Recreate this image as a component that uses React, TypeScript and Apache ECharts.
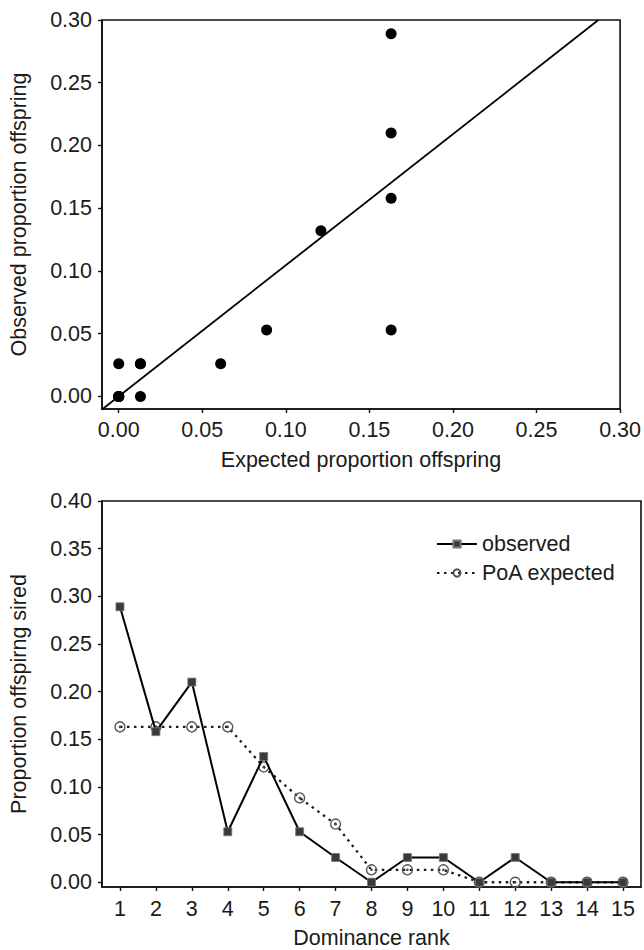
import React, { useEffect, useRef } from "react";
import * as echarts from "echarts";

// ---- data ----
const ranks = [1, 2, 3, 4, 5, 6, 7, 8, 9, 10, 11, 12, 13, 14, 15];
const observedProp = [0.289, 0.158, 0.21, 0.053, 0.132, 0.053, 0.026, 0, 0.026, 0.026, 0, 0.026, 0, 0, 0];
const expectedProp = [0.163, 0.163, 0.163, 0.163, 0.121, 0.0885, 0.061, 0.013, 0.013, 0.013, 0, 0, 0, 0, 0];
const fitLineX = [-0.01, 0.287];
const fitLineY = [-0.0104, 0.3];
const topTicks = [0, 0.05, 0.1, 0.15, 0.2, 0.25, 0.3];
const bottomYTicks = [0, 0.05, 0.1, 0.15, 0.2, 0.25, 0.3, 0.35, 0.4];

const FONT = "'Liberation Sans', Arial, Helvetica, sans-serif";
const TXT = "#1a1a1a";
const AX = "#111";
const FS = 21.5;

function axisCommon(extra: any) {
  return {
    axisLine: { show: true, onZero: false, lineStyle: { color: AX, width: 1.6 } },
    splitLine: { show: false },
    nameTextStyle: { color: TXT, fontSize: FS, fontFamily: FONT },
    ...extra,
  };
}

export default function App() {
  const ref = useRef<HTMLDivElement>(null);
  useEffect(() => {
    if (!ref.current) return;
    const chart = echarts.init(ref.current, null, { renderer: "svg" });
    const scatterPts = expectedProp.map((e, i) => [e, observedProp[i]]);
    const fitPts = fitLineX.map((x, i) => [x, fitLineY[i]]);
    const obsPts = ranks.map((r, i) => [r, observedProp[i]]);
    const expPts = ranks.map((r, i) => [r, expectedProp[i]]);
    const fmt2 = (v: number) => v.toFixed(2);
    const tick = (vals: number[]) => ({ show: true, length: 4, lineStyle: { color: AX, width: 1.4 }, customValues: vals });
    const label = (vals: number[], margin: number, f: any) => ({ color: TXT, fontSize: FS, fontFamily: FONT, margin, customValues: vals, formatter: f });
    chart.setOption({
      animation: false,
      backgroundColor: "#fff",
      textStyle: { fontFamily: FONT },
      grid: [
        { left: 100, top: 20, width: 522, height: 389, show: true, borderColor: AX, borderWidth: 1.6, backgroundColor: "transparent" },
        { left: 100, top: 501, width: 541, height: 388, show: true, borderColor: AX, borderWidth: 1.6, backgroundColor: "transparent" },
      ],
      xAxis: [
        axisCommon({
          gridIndex: 0, type: "value", min: -0.01, max: 0.3,
          name: "Expected proportion offspring", nameLocation: "middle", nameGap: 40,
          axisTick: tick(topTicks),
          axisLabel: label(topTicks, 10, fmt2),
        }),
        axisCommon({
          gridIndex: 1, type: "value", min: 0.5, max: 15.5,
          name: "Dominance rank", nameLocation: "middle", nameGap: 40,
          axisTick: tick(ranks),
          axisLabel: label(ranks, 11, (v: number) => String(v)),
        }),
      ],
      yAxis: [
        axisCommon({
          gridIndex: 0, type: "value", min: -0.01, max: 0.3,
          name: "Observed proportion offspring", nameLocation: "middle", nameGap: 72,
          axisTick: tick(topTicks),
          axisLabel: label(topTicks, 10, fmt2),
        }),
        axisCommon({
          gridIndex: 1, type: "value", min: -0.005, max: 0.4,
          name: "Proportion offspirng sired", nameLocation: "middle", nameGap: 72,
          axisTick: tick(bottomYTicks),
          axisLabel: label(bottomYTicks, 10, fmt2),
        }),
      ],
      legend: {
        orient: "vertical",
        left: 431,
        top: 527,
        itemWidth: 40,
        itemHeight: 9,
        itemGap: 5,
        data: ["observed", "PoA expected"],
        textStyle: { color: TXT, fontSize: FS, fontFamily: FONT, lineHeight: 24 },
      },
      series: [
        {
          type: "line", name: "fit", xAxisIndex: 0, yAxisIndex: 0, data: fitPts,
          showSymbol: false, symbol: "none", lineStyle: { color: "#000", width: 1.8 }, silent: true, z: 2,
        },
        {
          type: "scatter", name: "points", xAxisIndex: 0, yAxisIndex: 0, data: scatterPts,
          symbol: "circle", symbolSize: 11, itemStyle: { color: "#000", opacity: 1 }, z: 3,
        },
        {
          type: "line", name: "PoA expected", xAxisIndex: 1, yAxisIndex: 1, data: expPts,
          symbol: "circle", symbolSize: 10, showAllSymbol: true,
          lineStyle: { color: "#1a1a1a", width: 2.3, type: [2.5, 4.5] },
          itemStyle: { color: "rgba(255,255,255,0)", borderColor: "#555", borderWidth: 1.4 },
          z: 3,
        },
        {
          type: "scatter", name: "expCenter", xAxisIndex: 1, yAxisIndex: 1, data: expPts,
          symbol: "circle", symbolSize: 2.5, itemStyle: { color: "#444", opacity: 1 }, silent: true, z: 3,
        },
        {
          type: "line", name: "observed", xAxisIndex: 1, yAxisIndex: 1, data: obsPts,
          symbol: "rect", symbolSize: 8, showAllSymbol: true,
          lineStyle: { color: "#000", width: 2 },
          itemStyle: { color: "#3a3a3a", borderColor: "#777", borderWidth: 0.8 },
          z: 4,
        },
      ],
    });
    return () => chart.dispose();
  }, []);
  return (
    <div
      ref={ref}
      style={{ position: "absolute", left: 0, top: 0, width: 644, height: 950, background: "#fff" }}
    />
  );
}
